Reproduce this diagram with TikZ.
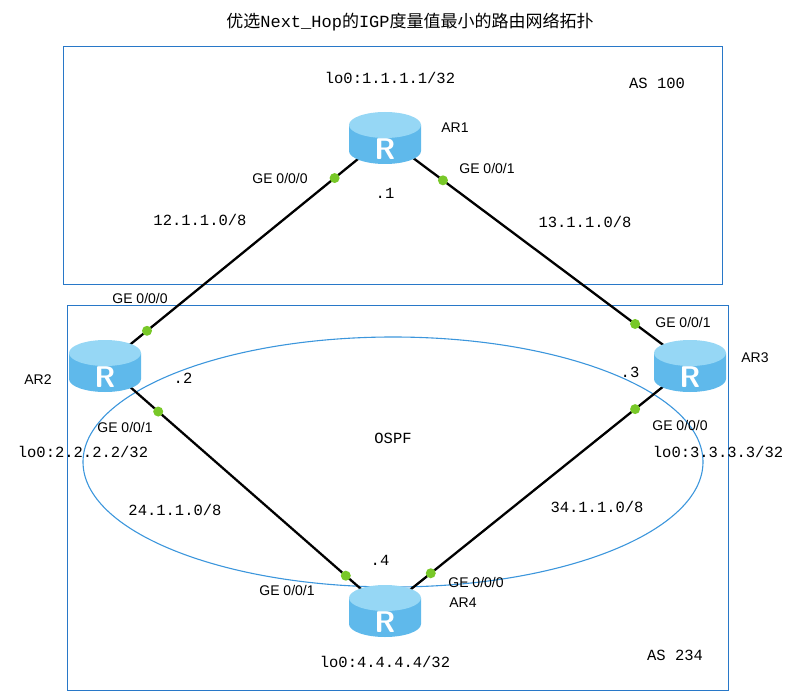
\documentclass[tikz,border=0pt]{standalone}
\usepackage{fontspec}
\setmainfont{Liberation Sans}
\setmonofont{Liberation Mono}
\newfontfamily\cjk{Noto Sans CJK SC}
\definecolor{rbody}{RGB}{95,185,235}
\definecolor{rtop}{RGB}{150,215,245}
\definecolor{dotgreen}{RGB}{120,200,40}
\definecolor{ospfblue}{RGB}{60,150,220}
\definecolor{boxblue}{RGB}{40,120,200}
\tikzset{
  router/.pic={
    \fill[rbody] (-36,-12) -- (-36,14) arc (180:0:36 and 13) -- (36,-12) -- cycle;
    \fill[rtop] (0,-12) ellipse (36 and 13);
    \node[text=white,font=\sffamily\bfseries\fontsize{30}{30}\selectfont] at (0,12) {R};
  },
  lbl/.style={font=\fontsize{14}{16}\selectfont},
  mlbl/.style={font=\ttfamily\fontsize{15.5}{17}\selectfont},
  link/.style={line width=2.3pt},
  port/.style={circle,fill=dotgreen,inner sep=0pt,minimum size=10pt},
}
\begin{document}
\begin{tikzpicture}[x=1pt,y=-1pt]
\useasboundingbox (0,0) rectangle (794,700);
% title
\node (title) at (410,22) {\cjk\fontsize{17}{19}\selectfont 优选\texttt{Next\_Hop}的\texttt{IGP}度量值最小的路由网络拓扑};
% areas
\draw[boxblue,line width=1pt] (63,47) rectangle (722,285);
\draw[boxblue,line width=1pt] (67,305) rectangle (728,690);
\draw[ospfblue,line width=1.1pt] (393,462) ellipse (310 and 125);
\node[mlbl] (as100) at (657,83) {AS 100};
\node[mlbl] (as234) at (675,655) {AS 234};
\node[mlbl] (ospf) at (393,438) {OSPF};
% routers
\coordinate (ar1) at (385,137);
\coordinate (ar2) at (105,365);
\coordinate (ar3) at (690,365);
\coordinate (ar4) at (385,610);
% links
\draw[link] (ar1) -- node[port,pos=0.18] (p12) {} node[port,pos=0.85] (p21) {} (ar2);
\draw[link] (ar1) -- node[port,pos=0.19] (p13) {} node[port,pos=0.82] (p31) {} (ar3);
\draw[link] (ar2) -- node[port,pos=0.19] (p24) {} node[port,pos=0.86] (p42) {} (ar4);
\draw[link] (ar3) -- node[port,pos=0.18] (p34) {} node[port,pos=0.85] (p43) {} (ar4);
\foreach \r in {ar1,ar2,ar3,ar4} \pic at (\r) {router};
% labels
\node[mlbl] (lo1) at (390,78) {lo0:1.1.1.1/32};
\node[lbl] (n1) at (455,128) {AR1};
\node[lbl] (g12) at (280,178) {GE 0/0/0};
\node[lbl] (g13) at (487,168) {GE 0/0/1};
\node[mlbl] (d1) at (385,193) {.1};
\node[mlbl] (net12) at (200,220) {12.1.1.0/8};
\node[mlbl] (net13) at (585,222) {13.1.1.0/8};
\node[lbl] (g21) at (140,298) {GE 0/0/0};
\node[lbl] (g31) at (683,322) {GE 0/0/1};
\node[mlbl] (d2) at (183,378) {.2};
\node[mlbl] (d3) at (630,372) {.3};
\node[lbl] (n2) at (38,380) {AR2};
\node[lbl] (n3) at (755,358) {AR3};
\node[lbl] (g24) at (125,427) {GE 0/0/1};
\node[lbl] (g34) at (680,425) {GE 0/0/0};
\node[mlbl] (lo2) at (83,452) {lo0:2.2.2.2/32};
\node[mlbl] (lo3) at (718,452) {lo0:3.3.3.3/32};
\node[mlbl] (net24) at (175,510) {24.1.1.0/8};
\node[mlbl] (net34) at (597,507) {34.1.1.0/8};
\node[mlbl] (d4) at (380,560) {.4};
\node[lbl] (g42) at (287,590) {GE 0/0/1};
\node[lbl] (g43) at (476,582) {GE 0/0/0};
\node[lbl] (n4) at (463,603) {AR4};
\node[mlbl] (lo4) at (385,662) {lo0:4.4.4.4/32};
\end{tikzpicture}
\end{document}
